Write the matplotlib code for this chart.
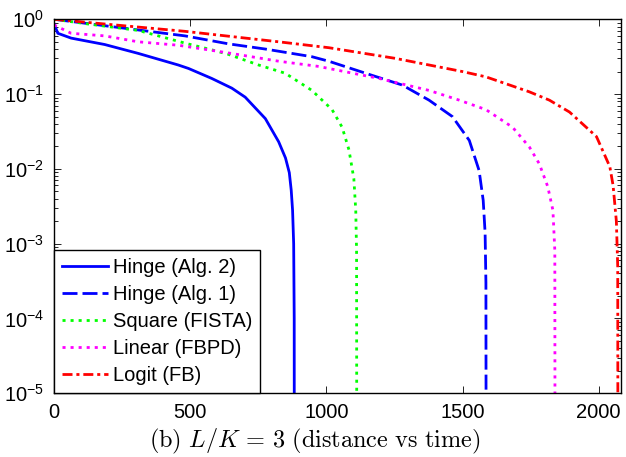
import matplotlib
matplotlib.use("Agg")
import matplotlib.pyplot as plt

plt.rcParams['font.family'] = ['Liberation Sans', 'DejaVu Sans']
plt.rcParams['font.size'] = 14.5

# values (x = time, y = distance)
hinge2_x = [0, 14, 63, 186, 309, 456, 494, 579, 653, 702, 776, 825, 850, 864, 871, 876, 880, 882, 882.5]
hinge2_y = [0.87, 0.65, 0.56, 0.46, 0.35, 0.245, 0.22, 0.162, 0.12, 0.091, 0.047, 0.023, 0.014,
            0.0089, 0.0052, 0.0028, 0.001, 0.0001, 1e-7]

hinge1_x = [0, 309, 481, 640, 776, 947, 1009, 1168, 1279, 1377, 1463, 1525, 1561, 1576, 1583, 1586, 1587]
hinge1_y = [1.0, 0.72, 0.60, 0.47, 0.40, 0.316, 0.275, 0.178, 0.132, 0.083, 0.050, 0.024, 0.0095,
            0.0038, 0.0014, 0.0003, 1e-7]

square_x = [0, 125, 309, 481, 580, 640, 751, 849, 947, 1021, 1058, 1083, 1101, 1108, 1111, 1112]
square_y = [1.0, 0.865, 0.71, 0.48, 0.39, 0.34, 0.245, 0.19, 0.112, 0.062, 0.036, 0.018, 0.0074,
            0.0028, 0.00081, 1e-7]

linear_x = [0, 63, 186, 309, 456, 640, 825, 973, 1009, 1193, 1377, 1488, 1586, 1684, 1746, 1782,
            1813, 1832, 1839, 1840]
linear_y = [0.84, 0.65, 0.60, 0.50, 0.45, 0.355, 0.275, 0.234, 0.22, 0.162, 0.112, 0.083, 0.062,
            0.036, 0.0195, 0.0117, 0.0058, 0.0028, 0.00081, 1e-7]

logit_x = [0, 186, 481, 825, 1009, 1254, 1500, 1586, 1746, 1819, 1893, 1992, 2041, 2053, 2065, 2070, 2071]
logit_y = [1.0, 0.865, 0.69, 0.50, 0.417, 0.30, 0.20, 0.17, 0.107, 0.083, 0.0575, 0.027, 0.0107,
           0.006, 0.002, 0.0005, 1e-7]

labels = ['Hinge (Alg. 2)', 'Hinge (Alg. 1)', 'Square (FISTA)', 'Linear (FBPD)', 'Logit (FB)']

fig = plt.figure(figsize=(6.26, 4.57), dpi=100)
ax = fig.add_axes([0.0863, 0.1394, 0.9057, 0.8184])

lw = 2.0
ax.plot(hinge2_x, hinge2_y, color=(0, 0, 1), lw=lw, ls='-', label=labels[0])
ax.plot(hinge1_x, hinge1_y, color=(0, 0, 1), lw=lw, ls=(0, (5.4, 1.8)), label=labels[1])
ax.plot(square_x, square_y, color=(0, 1, 0), lw=lw, ls=(0, (1.1, 1.8)), label=labels[2])
ax.plot(linear_x, linear_y, color=(1, 0, 1), lw=lw, ls=(0, (1.1, 1.8)), label=labels[3])
ax.plot(logit_x, logit_y, color=(1, 0, 0), lw=lw, ls=(0, (3.6, 1.4, 1.1, 1.4)), label=labels[4])

ax.set_yscale('log')
ax.set_ylim(1e-5, 1)
ax.set_xlim(0, 2082)
ax.set_xticks([0, 500, 1000, 1500, 2000])
ax.set_yticks([1e-5, 1e-4, 1e-3, 1e-2, 1e-1, 1e0])

ax.tick_params(which='both', direction='in', top=True, right=True)
ax.tick_params(which='major', length=5, width=0.6, pad=7)
ax.tick_params(which='minor', length=3, width=0.6)
for s in ax.spines.values():
    s.set_linewidth(1.0)

fig.text(0.502, 0.022, r'$\mathrm{(b)}\ L/K\,=\,3\ \mathrm{(distance\ vs\ time)}$',
         fontsize=17.5, math_fontfamily='cm', ha='center', va='baseline')

leg = ax.legend(loc='lower left', borderaxespad=0, fancybox=False, edgecolor='black',
                framealpha=1, handlelength=2.27, handletextpad=0.26, labelspacing=0.4,
                borderpad=0.4, fontsize=14.5)
leg.get_frame().set_linewidth(1.0)

fig.savefig('out.png', dpi=100)
